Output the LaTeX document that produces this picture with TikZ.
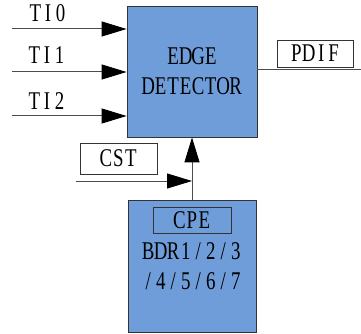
\documentclass[tikz,border=0pt]{standalone}
\usepackage{fontspec}
\setmainfont{Liberation Serif}[FakeStretch=0.74]
\usetikzlibrary{arrows.meta}
\definecolor{boxblue}{RGB}{111,157,218}
\newcommand\mt[1]{\mtaux#1\relax}
\def\mtaux#1{\ifx#1\relax\else\makebox[12.5pt]{#1}\expandafter\mtaux\fi}
\begin{document}
\begin{tikzpicture}[x=1pt,y=-1pt,
  blk/.style={draw=black!80, line width=0.8pt, fill=boxblue, inner sep=0pt},
  txt/.style={inner sep=0pt, align=center, font=\fontsize{25.5}{30}\selectfont},
  tag/.style={draw=black!80, line width=0.8pt, inner sep=0pt, font=\fontsize{25.5}{30}\selectfont},
  wire/.style={draw=black!70, line width=1pt},
  arr/.style={wire, -{Triangle[length=25pt,width=15pt,color=black]}}]
\useasboundingbox (0,0) rectangle (361,334);
% main block
\node[blk, minimum width=130pt, minimum height=131pt] (edge) at (192,71.5) {};
\node[txt] (edgetxt) at (192,71.5) {\mt{EDGE}\\\mt{DETECTOR}};
% bottom block
\node[blk, minimum width=128pt, minimum height=132pt] (bdr) at (192,266) {};
\node[tag, minimum width=78pt, minimum height=26pt] (cpe) at (192,220) {\mt{CPE}};
\node[txt] (bdrtxt) at (192,266) {\mt{BDR1/2/3}\\\mt{/4/5/6/7}};
% inputs
\coordinate (i0) at (12,29);
\coordinate (i1) at (12,72);
\coordinate (i2) at (12,116);
\draw[arr] (i0) -- (edge.west |- i0);
\draw[arr] (i1) -- (edge.west |- i1);
\draw[arr] (i2) -- (edge.west |- i2);
\node[txt, anchor=base] (t0) at (48,22) {\mt{TI0}};
\node[txt, anchor=base] (t1) at (47,64) {\mt{TI1}};
\node[txt, anchor=base] (t2) at (47,110) {\mt{TI2}};
% output
\coordinate (po) at (361,70);
\draw[wire] (edge.east |- po) -- (po);
\node[tag, minimum width=76pt, minimum height=27pt] (pdif) at (315,53.5) {\mt{PDIF}};
% vertical and CST
\draw[arr] (bdr.north) -- (edge.south);
\coordinate (cin) at (76,181);
\coordinate (cj) at (bdr.north |- cin);
\draw[arr] (cin) -- (cj);
\node[tag, minimum width=77pt, minimum height=31pt] (cst) at (118.5,158.5) {\mt{CST}};
\end{tikzpicture}
\end{document}
